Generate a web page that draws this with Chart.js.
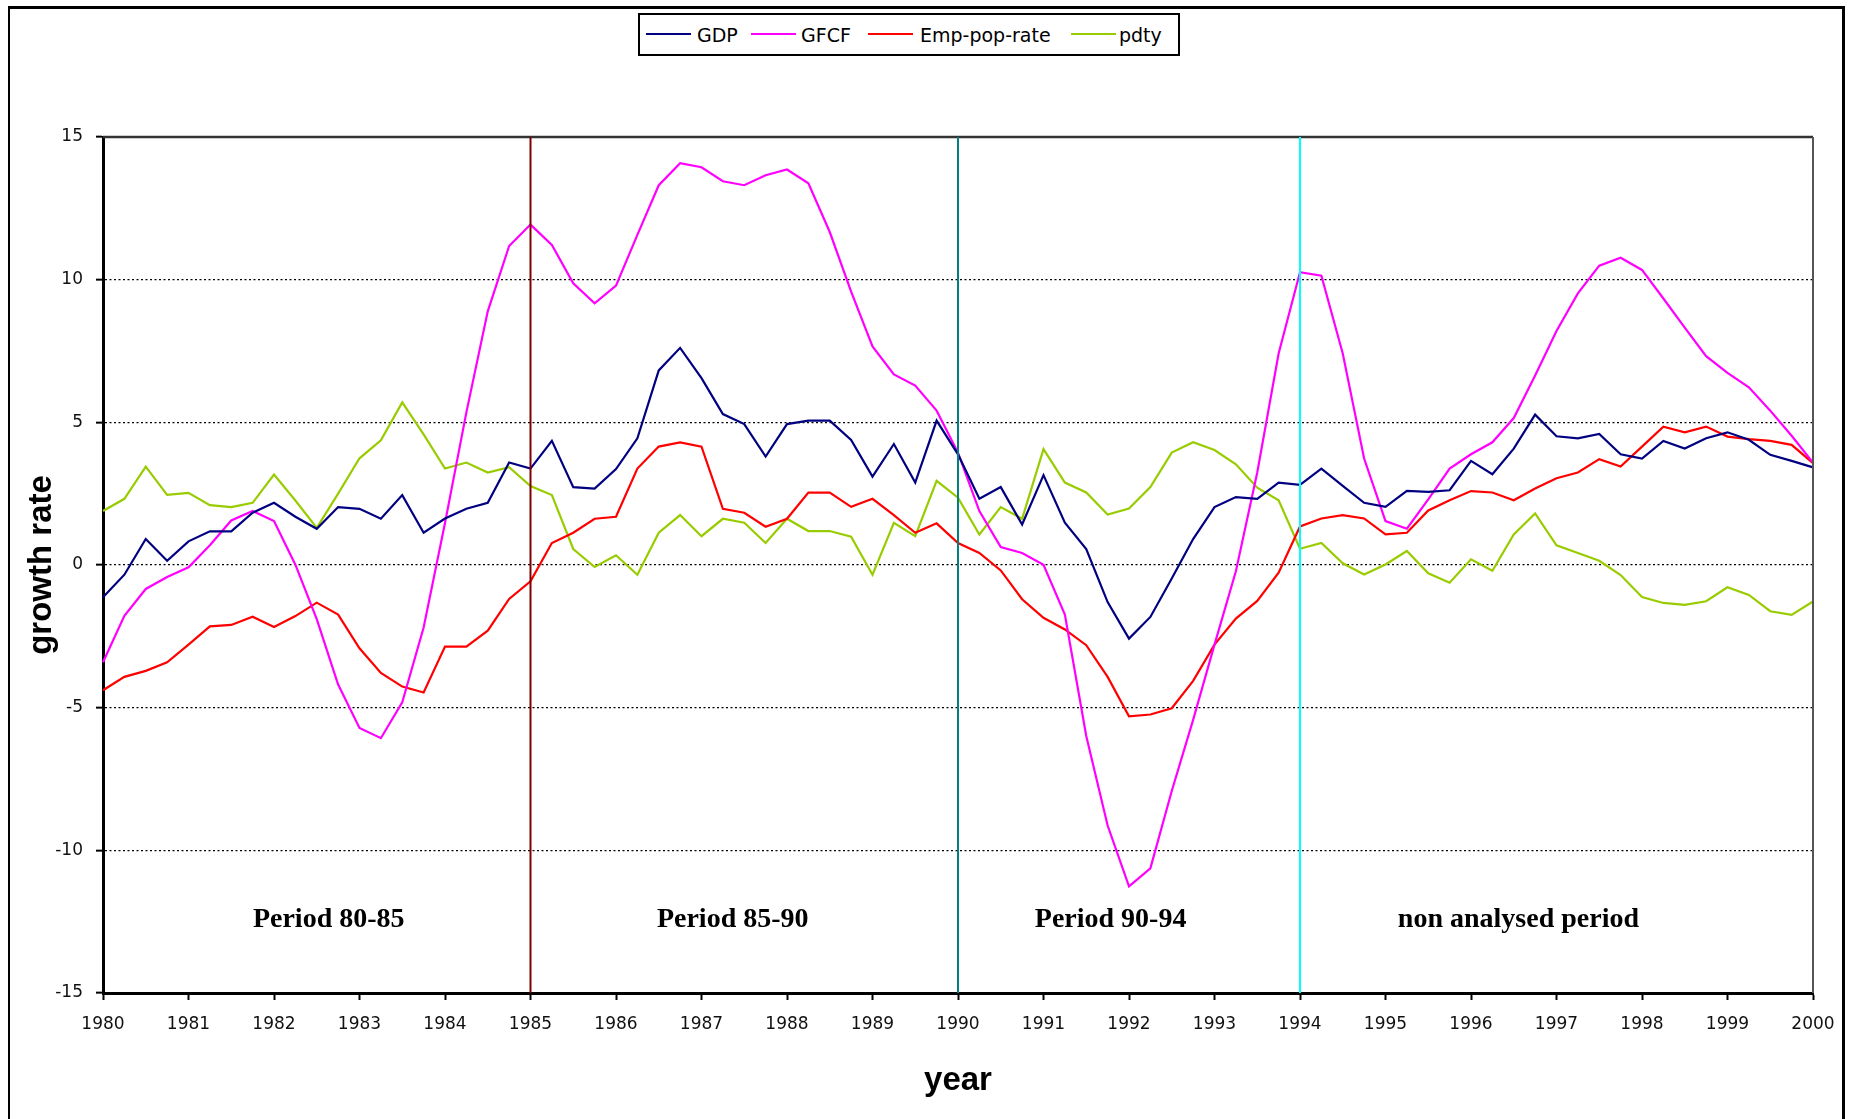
<!DOCTYPE html>
<html>
<head>
<meta charset="utf-8">
<script src="https://cdn.jsdelivr.net/npm/chart.js@4.4.0/dist/chart.umd.min.js"></script>
<style>
html,body{margin:0;padding:0;background:#fff;width:1854px;height:1119px;overflow:hidden;}
#frame{position:absolute;left:8px;top:6px;width:1837px;height:1300px;border-top:3px solid #000;border-right:3px solid #000;border-left:2px solid #000;box-sizing:border-box;}
#wrap{position:absolute;left:0;top:0;width:1854px;height:1119px;}
#legend{position:absolute;left:638px;top:13px;width:542px;height:43px;border:2px solid #000;box-sizing:border-box;background:#fff;font-family:"DejaVu Sans",sans-serif;font-size:19px;color:#000;}
.lt{position:absolute;top:0;height:39px;line-height:40px;white-space:nowrap;}
.sw{position:absolute;height:2px;width:45px;top:18px;}
</style>
</head>
<body>
<div id="frame"></div>
<div id="wrap"><canvas id="c" width="1854" height="1119"></canvas></div>
<div id="legend"></div>
<script>
// ---- data ----
const quarterLabels = [];
for (let y = 1980; y <= 2000; y++) {
  for (let q = 1; q <= 4; q++) {
    if (y === 2000 && q > 1) break;
    quarterLabels.push(y + ' Q' + q);
  }
}
const yTickValues = [-15, -10, -5, 0, 5, 10, 15];

const gdp = [-1.13,-0.34,0.91,0.15,0.83,1.18,1.18,1.83,2.18,1.69,1.27,2.03,1.97,1.62,2.45,1.13,1.63,1.97,2.18,3.59,3.38,
  4.35,2.73,2.68,3.36,4.44,6.82,7.61,6.55,5.29,4.94,3.80,4.94,5.06,5.06,4.38,3.10,4.24,2.89,5.06,3.88,
  2.32,2.73,1.42,3.15,1.48,0.56,-1.30,-2.58,-1.82,-0.47,0.91,2.03,2.38,2.32,2.89,2.81,3.38,2.77,2.18,2.04,
  2.60,2.56,2.62,3.65,3.18,4.08,5.27,4.51,4.44,4.59,3.88,3.73,4.35,4.08,4.44,4.65,4.39,3.86,3.65,3.42];

const gfcf = [-3.41,-1.78,-0.84,-0.42,-0.08,0.69,1.56,1.89,1.54,0.01,-1.90,-4.19,-5.71,-6.07,-4.81,-2.19,1.47,5.35,8.89,11.18,11.93,
  11.22,9.87,9.17,9.79,11.57,13.31,14.08,13.94,13.45,13.31,13.66,13.86,13.38,11.67,9.58,7.66,6.68,6.29,5.41,3.94,
  1.89,0.63,0.42,0.01,-1.74,-5.99,-9.13,-11.26,-10.63,-7.92,-5.43,-2.79,-0.22,3.24,7.41,10.26,10.14,7.41,3.73,1.54,
  1.27,2.30,3.38,3.88,4.30,5.15,6.64,8.20,9.52,10.49,10.77,10.34,9.34,8.32,7.32,6.73,6.23,5.41,4.53,3.59];

const empPopRate = [-4.39,-3.92,-3.71,-3.41,-2.79,-2.15,-2.10,-1.81,-2.17,-1.79,-1.32,-1.74,-2.92,-3.78,-4.26,-4.47,-2.86,-2.86,-2.30,-1.19,-0.57,
  0.77,1.13,1.62,1.69,3.38,4.15,4.30,4.15,1.97,1.83,1.34,1.62,2.54,2.54,2.04,2.32,1.75,1.13,1.46,0.77,
  0.42,-0.19,-1.20,-1.85,-2.26,-2.81,-3.92,-5.30,-5.24,-5.02,-4.06,-2.79,-1.88,-1.26,-0.27,1.35,1.63,1.75,1.63,1.07,
  1.13,1.91,2.27,2.59,2.54,2.27,2.68,3.04,3.24,3.71,3.45,4.15,4.85,4.65,4.85,4.50,4.41,4.35,4.21,3.57];

const pdty = [1.89,2.32,3.45,2.46,2.53,2.10,2.03,2.18,3.17,2.26,1.30,2.50,3.74,4.37,5.70,4.58,3.38,3.59,3.24,3.43,2.77,
  2.45,0.56,-0.07,0.34,-0.34,1.13,1.75,1.01,1.62,1.48,0.77,1.62,1.19,1.19,0.99,-0.34,1.48,1.01,2.95,2.36,
  1.07,2.03,1.62,4.06,2.89,2.54,1.77,1.98,2.73,3.94,4.30,4.03,3.53,2.71,2.27,0.57,0.77,0.06,-0.33,0.02,
  0.49,-0.29,-0.62,0.20,-0.20,1.07,1.81,0.69,0.42,0.15,-0.35,-1.12,-1.33,-1.40,-1.27,-0.78,-1.05,-1.62,-1.75,-1.28];

const seriesNames = ['GDP', 'GFCF', 'Emp-pop-rate', 'pdty'];
const periodLabels = ['Period 80-85', 'Period 85-90', 'Period 90-94', 'non analysed period'];
const markerQuarters = ['1985 Q1', '1990 Q1', '1994 Q1'];

// ---- styles ----
const seriesColors = ['#000080', '#FF00FF', '#FF0000', '#99CC00'];
const markerColors = ['#800000', '#008080', '#00FFFF'];
const periodLabelPos = [10.56, 29.46, 47.14, 66.22]; // in category index units
const periodLabelValue = -12.43;

// ---- legend (HTML) ----
const legendSwatchLeft = [6, 111, 228, 431];
const legendTextLeft = [57, 161, 280, 479];
const lg = document.getElementById('legend');
seriesNames.forEach((n, i) => {
  const s = document.createElement('div');
  s.className = 'sw'; s.style.left = legendSwatchLeft[i] + 'px'; s.style.background = seriesColors[i];
  lg.appendChild(s);
  const t = document.createElement('div');
  t.className = 'lt'; t.style.left = legendTextLeft[i] + 'px'; t.textContent = n;
  lg.appendChild(t);
});

const overlay = {
  id: 'overlay',
  afterDatasetsDraw(chart) {
    const {ctx, chartArea: a, scales: {x, y}} = chart;
    ctx.save();
    // plot frame (top & right)
    ctx.strokeStyle = '#333';
    ctx.lineWidth = 2.5;
    ctx.beginPath(); ctx.moveTo(a.left, a.top); ctx.lineTo(a.right, a.top); ctx.stroke();
    ctx.strokeStyle = '#555';
    ctx.lineWidth = 2;
    ctx.beginPath(); ctx.moveTo(a.right, a.top); ctx.lineTo(a.right, a.bottom); ctx.stroke();
    // vertical period markers
    markerQuarters.forEach((q, i) => {
      const px = x.getPixelForValue(quarterLabels.indexOf(q));
      ctx.strokeStyle = markerColors[i];
      ctx.lineWidth = 2;
      ctx.beginPath(); ctx.moveTo(px, a.top); ctx.lineTo(px, a.bottom); ctx.stroke();
    });
    // period labels
    ctx.fillStyle = '#000';
    ctx.font = 'bold 28px "Liberation Serif", serif';
    ctx.textAlign = 'center';
    ctx.textBaseline = 'middle';
    const py = y.getPixelForValue(periodLabelValue);
    periodLabels.forEach((t, i) => {
      ctx.fillText(t, x.getPixelForValue(periodLabelPos[i]), py);
    });
    ctx.restore();
  }
};

const tickFont = {family: '"DejaVu Sans", sans-serif', size: 17};
const titleFont = {family: '"Liberation Sans", Arial, sans-serif', size: 33, weight: 'bold'};

new Chart(document.getElementById('c'), {
  type: 'line',
  data: {
    labels: quarterLabels,
    datasets: [gdp, gfcf, empPopRate, pdty].map((d, i) => ({
      label: seriesNames[i],
      data: d,
      borderColor: seriesColors[i],
      backgroundColor: seriesColors[i],
      borderWidth: 2.2,
      pointRadius: 0,
      pointHoverRadius: 0,
      tension: 0,
      fill: false
    }))
  },
  options: {
    responsive: false,
    animation: false,
    devicePixelRatio: 1,
    layout: {padding: {left: 0, right: 41, top: 137, bottom: 0}},
    plugins: {legend: {display: false}, tooltip: {enabled: false}},
    scales: {
      x: {
        type: 'category',
        offset: false,
        afterFit: s => { s.height = 126; },
        ticks: {
          autoSkip: false, maxRotation: 0, minRotation: 0, padding: 14,
          font: tickFont, color: '#111',
          callback: (v, i) => (i % 4 === 0 ? quarterLabels[i].slice(0, 4) : '')
        },
        grid: {
          display: true, drawOnChartArea: false, drawTicks: true,
          tickLength: 7, tickWidth: 2,
          tickColor: c => (c.index % 4 === 0 ? '#000' : 'rgba(0,0,0,0)')
        },
        border: {display: true, color: '#000', width: 3},
        title: {display: true, text: 'year', font: titleFont, color: '#000', padding: {top: 0, bottom: 18}}
      },
      y: {
        type: 'linear',
        min: -15, max: 15,
        afterFit: s => { s.width = 103; },
        afterBuildTicks: s => { s.ticks = yTickValues.map(v => ({value: v})); },
        ticks: {padding: 13, font: tickFont, color: '#111'},
        grid: {color: '#000', lineWidth: 1.3, drawTicks: true, tickLength: 7, tickWidth: 2, tickColor: '#000'},
        border: {display: true, color: '#000', width: 3, dash: [2, 2.5]},
        title: {display: true, text: 'growth rate', font: titleFont, color: '#000', padding: {top: 22, bottom: 0}}
      }
    }
  },
  plugins: [overlay]
});
</script>
</body>
</html>
